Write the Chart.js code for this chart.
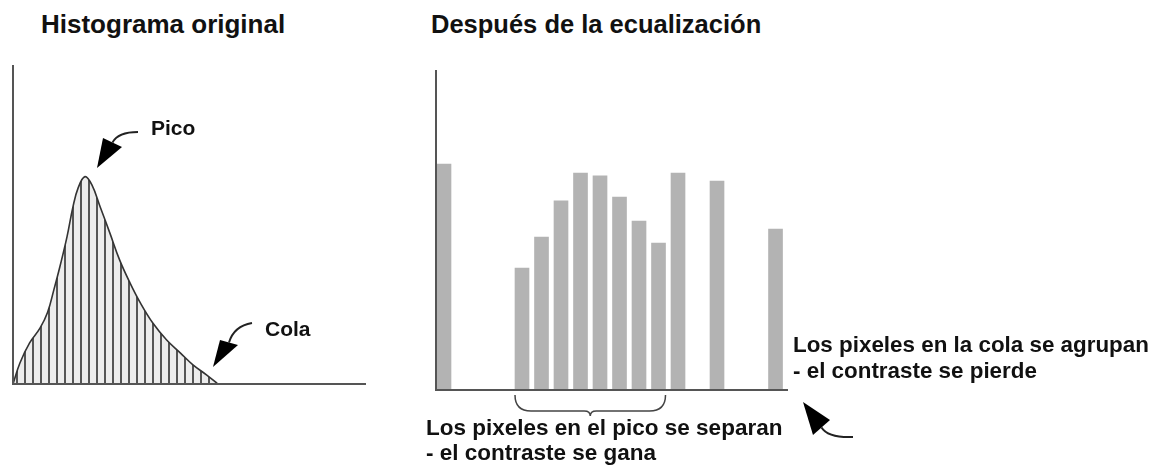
<!DOCTYPE html>
<html lang="es">
<head>
<meta charset="UTF-8">
<title>Ecualización de histograma</title>
<script src="https://cdn.jsdelivr.net/npm/chart.js"></script>
<style>
  html, body { margin: 0; padding: 0; background: #fff; }
  body { width: 1152px; height: 465px; position: relative; overflow: hidden;
         font-family: "Liberation Sans", Arial, sans-serif; font-weight: bold; color: #111; }
  .txt { position: absolute; white-space: nowrap; }
  .title { font-size: 25.5px; line-height: 25px; }
  .small { font-size: 21px; line-height: 21px; }
  .note { font-size: 22.4px; line-height: 26px; }
  .note2 { font-size: 22.5px; line-height: 25px; }
  #leftBox { position: absolute; left: 0; top: 50px; width: 420px; height: 345px; }
  #rightBox { position: absolute; left: 420px; top: 50px; width: 732px; height: 415px; }
</style>
</head>
<body>
<div id="leftBox"><canvas id="leftChart"></canvas></div>
<div id="rightBox"><canvas id="rightChart"></canvas></div>

<div class="txt title" style="left:41px; top:12px; font-size:26px;">Histograma original</div>
<div class="txt title" style="left:431px; top:12px;">Después de la ecualización</div>
<div class="txt small" style="left:151px; top:117px;">Pico</div>
<div class="txt small" style="left:265px; top:318px;">Cola</div>
<div class="txt note" style="left:793px; top:332px;">Los pixeles en la cola se agrupan<br>- el contraste se pierde</div>
<div class="txt note2" style="left:426px; top:415px;">Los pixeles en el pico se separan<br>- el contraste se gana</div>

<script>
// original histogram (smooth curve), x = gray level, y = relative count
const leftLevels = [0, 5, 12, 19.5, 25, 29.5, 34, 39, 43.3, 47, 52, 57, 63, 70, 77, 84.5, 92, 101, 111, 121, 130, 140, 148];
const leftCounts = [0, 6.6, 12.9, 17.5, 22.5, 29.5, 37, 46.1, 55.5, 61.4, 65, 62.4, 55.5, 47.3, 38.9, 31.7, 25.4, 19.1, 13.8, 9.7, 6, 2.8, 0];

// equalized histogram, bin index and relative count
const rightBins = [0, 4, 5, 6, 7, 8, 9, 10, 11, 12, 14, 17];
const rightCounts = [70.6, 38.1, 47.8, 59.1, 67.8, 66.9, 60.3, 52.8, 45.9, 67.8, 65.3, 50.3];

const axisColor = '#555';

// vertical hatching used to fill the curve
function hatchPattern() {
    const c = document.createElement('canvas');
    c.width = 8; c.height = 8;
    const g = c.getContext('2d');
    g.fillStyle = '#ececec';
    g.fillRect(0, 0, 8, 8);
    g.fillStyle = '#555';
    g.fillRect(0, 0, 2, 8);
    return g.createPattern(c, 'repeat');
}

function drawArrow(ctx, tip, c1, c2, tail, ctrl) {
    ctx.save();
    ctx.fillStyle = '#000';
    ctx.strokeStyle = '#222';
    ctx.lineWidth = 2;
    const mx = (c1[0] + c2[0]) / 2, my = (c1[1] + c2[1]) / 2;
    ctx.beginPath();
    ctx.moveTo(mx, my);
    ctx.quadraticCurveTo(ctrl[0], ctrl[1], tail[0], tail[1]);
    ctx.stroke();
    ctx.beginPath();
    ctx.moveTo(tip[0], tip[1]);
    ctx.lineTo(c1[0], c1[1]);
    ctx.lineTo(c2[0], c2[1]);
    ctx.closePath();
    ctx.fill();
    ctx.restore();
}

const axesPlugin = {
    id: 'axesLines',
    afterDatasetsDraw(chart) {
        const { ctx, chartArea } = chart;
        ctx.save();
        ctx.strokeStyle = axisColor;
        ctx.lineWidth = 2;
        ctx.beginPath();
        ctx.moveTo(chartArea.left, chartArea.top);
        ctx.lineTo(chartArea.left, chartArea.bottom);
        ctx.lineTo(chartArea.right, chartArea.bottom);
        ctx.stroke();
        ctx.restore();
    }
};

const leftDecor = {
    id: 'leftDecor',
    afterDraw(chart) {
        const ctx = chart.ctx;
        // canvas starts at page y = 50
        drawArrow(ctx, [97, 118], [103, 88], [122, 97], [138, 82], [118, 82]);
        drawArrow(ctx, [213, 317], [220, 290], [238, 295], [252, 273], [234, 276]);
    }
};

const rightDecor = {
    id: 'rightDecor',
    afterDraw(chart) {
        const ctx = chart.ctx;
        const xs = chart.scales.x;
        const y0 = chart.chartArea.bottom;
        const l = xs.getPixelForValue(4) - 7;
        const r = xs.getPixelForValue(11) + 7;
        const m = (l + r) / 2;
        // brace under the separated peak bins
        ctx.save();
        ctx.strokeStyle = '#444';
        ctx.lineWidth = 1.5;
        ctx.beginPath();
        ctx.moveTo(l, y0 + 5);
        ctx.quadraticCurveTo(l, y0 + 21, l + 16, y0 + 21);
        ctx.lineTo(m - 6, y0 + 21);
        ctx.quadraticCurveTo(m, y0 + 21, m, y0 + 26);
        ctx.quadraticCurveTo(m, y0 + 21, m + 6, y0 + 21);
        ctx.lineTo(r - 16, y0 + 21);
        ctx.quadraticCurveTo(r, y0 + 21, r, y0 + 5);
        ctx.stroke();
        ctx.restore();
        // arrow pointing at the tail bins (canvas origin = page 420, 50)
        drawArrow(ctx, [383, 352], [410, 370], [393, 385], [433, 387], [408, 388]);
    }
};

new Chart(document.getElementById('leftChart'), {
    type: 'line',
    data: {
        datasets: [{
            data: leftLevels.map((v, i) => ({ x: v, y: leftCounts[i] })),
            borderColor: '#333',
            borderWidth: 1.6,
            pointRadius: 0,
            tension: 0.4,
            fill: 'origin',
            backgroundColor: hatchPattern()
        }]
    },
    options: {
        responsive: true,
        maintainAspectRatio: false,
        animation: false,
        layout: { padding: { left: 13, top: 15, right: 54, bottom: 11 } },
        plugins: { legend: { display: false }, tooltip: { enabled: false } },
        scales: {
            x: { type: 'linear', display: false, min: 0, max: 255 },
            y: { display: false, min: 0, max: 100 }
        }
    },
    plugins: [axesPlugin, leftDecor]
});

new Chart(document.getElementById('rightChart'), {
    type: 'bar',
    data: {
        datasets: [{
            data: rightBins.map((b, i) => ({ x: b, y: rightCounts[i] })),
            backgroundColor: '#b3b3b3',
            borderWidth: 0,
            barThickness: 14
        }]
    },
    options: {
        responsive: true,
        maintainAspectRatio: false,
        animation: false,
        layout: { padding: { left: 16, top: 20, right: 364, bottom: 75 } },
        plugins: { legend: { display: false }, tooltip: { enabled: false } },
        scales: {
            x: { type: 'linear', display: false, min: -0.41, max: 17.64, offset: false },
            y: { display: false, min: 0, max: 100 }
        }
    },
    plugins: [axesPlugin, rightDecor]
});
</script>
</body>
</html>
